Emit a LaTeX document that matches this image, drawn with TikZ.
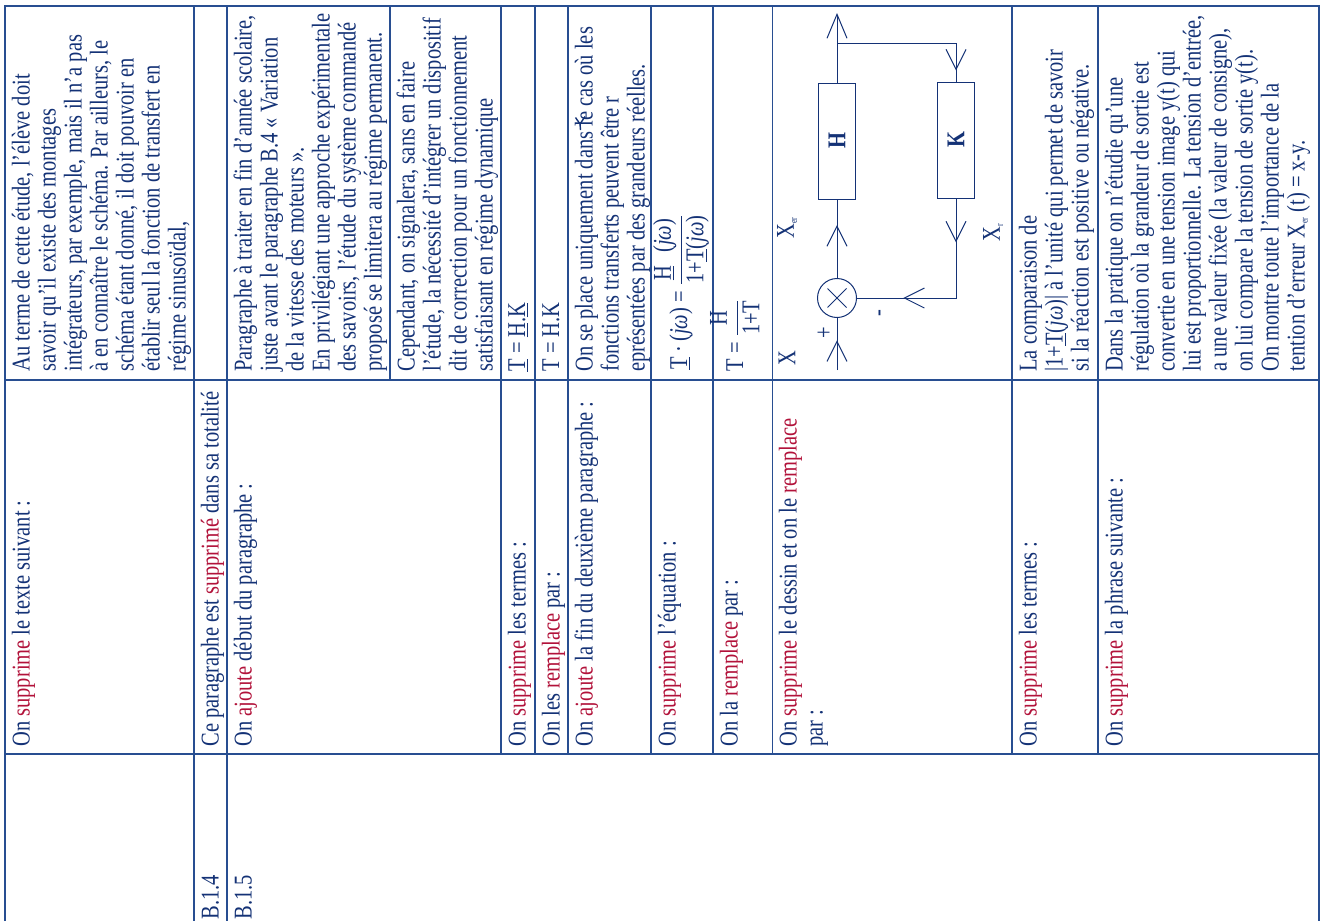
\documentclass[tikz,border=0pt]{standalone}
\usepackage{fontspec}
\usepackage{graphicx}
\setmainfont{Liberation Serif}[FakeStretch=0.8]
\usetikzlibrary{arrows.meta}
\usetikzlibrary{decorations.markings}
\definecolor{navy}{RGB}{20,50,118}
\definecolor{rougefonce}{RGB}{178,18,58}
\definecolor{gridblue}{RGB}{40,78,145}
\newcommand{\rouge}[1]{\textcolor{rougefonce}{#1}}
\newcommand{\cellfont}{\fontsize{12.8}{13}\selectfont}
\tikzset{barb/.tip={Straight Barb[length=10pt,width=10pt]}}
\tikzstyle{cell}=[rotate=90, anchor=north west, inner sep=0pt, align=left, font=\cellfont, text=navy]
\tikzstyle{formula}=[rotate=90, anchor=base west, inner sep=0pt, font=\cellfont, text=navy]
\tikzstyle{lab}=[rotate=90, inner sep=0pt, font=\cellfont, text=navy]
\tikzstyle{gridline}=[draw=gridblue, line width=0.6pt]
\tikzstyle{wire}=[draw=navy, line width=0.5pt]
\tikzstyle{blockbox}=[wire, rectangle, minimum width=18.5pt, minimum height=58pt, inner sep=0pt, font=\cellfont\bfseries, text=navy]
\tikzstyle{tipat}=[postaction={decorate, decoration={markings, mark=at position #1 with {\arrow{barb}}}}]

\begin{document}
\begin{tikzpicture}[x=0.5pt, y=-0.5pt]
  \useasboundingbox (0,0) rectangle (1321,921);
  \fill[white] (0,0) rectangle (1321,921);

  % table rules
  \draw[gridline] (5,921) -- (5,6) -- (1319,6) -- (1319,921);
  \draw[gridline] (5,380) -- (1319,380);
  \draw[gridline] (5,754) -- (1319,754);
  \draw[gridline] (194,6) -- (194,921);
  \draw[gridline] (227,6) -- (227,921);
  \draw[gridline] (390,6) -- (390,380);
  \foreach \xr in {501,535,568,651,713,772.5,1012,1098}
    \draw[gridline] (\xr,6) -- (\xr,754);

  % first row
  \node[cell] (r0top) at (11,372) {\strut Au terme de cette étude, l’élève doit\\
    savoir qu’il existe des montages\\
    intégrateurs, par exemple, mais il n’a pas\\
    à en connaître le schéma. Par ailleurs, le\\
    schéma étant donné, il doit pouvoir en\\
    établir seul la fonction de transfert en\\
    régime sinusoïdal,};
  \node[cell] (r0mid) at (11,747) {\strut On \rouge{supprime} le texte suivant :};

  % B.1.4
  \node[cell] (b14) at (200,920) {\strut B.1.4};
  \node[cell] (b14mid) at (200,747) {\strut Ce paragraphe est \rouge{supprimé} dans sa totalité};

  % B.1.5
  \node[cell] (b15) at (233,920) {\strut B.1.5};
  \node[cell] (s0mid) at (233,747) {\strut On \rouge{ajoute} début du paragraphe :};
  \node[cell] (s0top) at (233,372) {\strut Paragraphe à traiter en fin d’année scolaire,\\
    juste avant le paragraphe B.4 « Variation\\
    de la vitesse des moteurs ».\\
    En privilégiant une approche expérimentale\\
    des savoirs, l’étude du système commandé\\
    proposé se limitera au régime permanent.};
  \node[cell] (s0top2) at (396,372) {\strut Cependant, on signalera, sans en faire\\
    l’étude, la nécessité d’intégrer un dispositif\\
    dit de correction pour un fonctionnement\\
    satisfaisant en régime dynamique};

  \node[cell] (s1mid) at (507,747) {\strut On \rouge{supprime} les termes :};
  \node[formula] (s1top) at (525,372) {\underline{T} = \underline{H}.\underline{K}};

  \node[cell] (s2mid) at (541,747) {\strut On les \rouge{remplace} par :};
  \node[formula] (s2top) at (559,372) {T = H.K};

  \node[cell] (s3mid) at (574,747) {\strut On \rouge{ajoute} la fin du deuxième paragraphe :};
  \node[cell] (s3top) at (574,372) {\strut On se place uniquement dans le cas où les\\
    fonctions transferts peuvent être r\\
    eprésentées par des grandeurs réelles.};
  \draw[wire, line width=0.7pt] (575.5,117.5) -- (580,124) -- (585,116.5) (580,124) -- (580.5,130);

  \node[cell] (s4mid) at (657,747) {\strut On \rouge{supprime} l’équation :};
  \node[formula] (s4top) at (687,370) {\underline{T}\,·\,(\textit{jω}) =
    $\displaystyle\frac{\hbox{\underline{H}\enspace(\textit{jω})}}{\hbox{1+\underline{T}(\textit{jω})}}$};

  \node[cell] (s5mid) at (719,747) {\strut On la \rouge{remplace} par :};
  \node[formula] (s5top) at (743,372) {T = $\displaystyle\frac{\hbox{H}}{\hbox{1+T}}$};

  \node[cell] (s6mid) at (778,747) {\strut On \rouge{supprime} le dessin et on le \rouge{remplace}\\ par :};

  % loop diagram
  \coordinate (in) at (837,370);
  \coordinate (out) at (837,13);
  \coordinate (br) at (837,43);
  \node[wire, circle, minimum size=19.5pt, inner sep=0pt] (sum) at (837,298) {};
  \draw[wire] (sum.center) ++(-9.5,-9.5) -- ++(19,19);
  \draw[wire] (sum.center) ++(-9.5,9.5) -- ++(19,-19);
  \node[blockbox] (H) at (837,141) {\rotatebox{90}{H}};
  \node[blockbox] (K) at (956,140) {\rotatebox{90}{K}};
  \draw[wire, tipat=0.571] (in) -- (sum);
  \draw[wire, tipat=0.673] (sum) -- (H);
  \draw[wire, -{Straight Barb[length=12pt,width=10pt]}] (H) -- (out);
  \draw[wire, tipat=0.93] (br) -| (K);
  \draw[wire, tipat=0.221, tipat=0.767] (K) |- (sum);
  \node[lab] (xin) at (787,358) {X};
  \node[lab] (xer) at (787,228) {X\raisebox{-1.5pt}{\tiny er}};
  \node[lab] (xr) at (993,233) {X\raisebox{-1.5pt}{\tiny r}};
  \node[lab] (plus) at (825,333) {+};
  \node[lab] (minus) at (882,313) {-};

  \node[cell] (s7mid) at (1018,747) {\strut On \rouge{supprime} les termes :};
  \node[cell] (s7top) at (1018,372) {\strut La comparaison de\\
    |1+\underline{T}(\textit{jω})| à l’unité qui permet de savoir\\
    si la réaction est positive ou négative.};

  \node[cell] (s8mid) at (1104,747) {\strut On \rouge{supprime} la phrase suivante :};
  \node[cell] (s8top) at (1104,372) {\strut Dans la pratique on n’étudie qu’une\\
    régulation où la grandeur de sortie est\\
    convertie en une tension image y(t) qui\\
    lui est proportionnelle. La tension d’entrée,\\
    a une valeur fixée (la valeur de consigne),\\
    on lui compare la tension de sortie y(t).\\
    On montre toute l’importance de la\\
    tention d’erreur X\raisebox{-1.5pt}{\tiny er} (t) = x-y.};
\end{tikzpicture}
\end{document}
